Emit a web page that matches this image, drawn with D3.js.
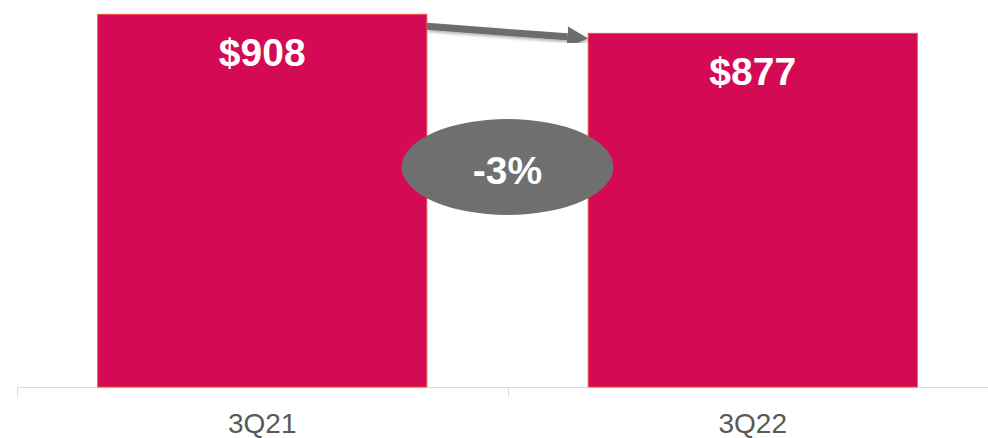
<!DOCTYPE html>
<html lang="en">
<head>
    <meta charset="UTF-8">
    <title>3Q21 vs 3Q22</title>
    <script src="https://cdnjs.cloudflare.com/ajax/libs/d3/7.8.5/d3.min.js"></script>
    <style>
        body { margin: 0; background: #fff; }
        svg { display: block; font-family: "Liberation Sans", Arial, sans-serif; }
    </style>
</head>
<body>
<div id="chart"></div>
<script>
    const categories = ["3Q21", "3Q22"];
    const values = [908, 877];
    const valueLabels = ["$908", "$877"];
    const changeLabel = "-3%";

    const width = 988, height = 438;
    const baseline = 387;

    const svg = d3.select("#chart").append("svg")
        .attr("width", width)
        .attr("height", height);

    const defs = svg.append("defs");
    const shadow = defs.append("filter").attr("id", "shadow")
        .attr("x", "-20%").attr("y", "-50%").attr("width", "140%").attr("height", "200%");
    shadow.append("feDropShadow")
        .attr("dx", 1).attr("dy", 2).attr("stdDeviation", 1.5)
        .attr("flood-color", "#000").attr("flood-opacity", 0.3);

    defs.append("marker")
        .attr("id", "head")
        .attr("viewBox", "0 0 10 10")
        .attr("refX", 0).attr("refY", 5)
        .attr("markerWidth", 3).attr("markerHeight", 3.3)
        .attr("markerUnits", "strokeWidth")
        .attr("orient", "auto")
        .append("path")
        .attr("d", "M0,0L10,5L0,10Z")
        .attr("fill", "#6d6d6d");

    const x = d3.scaleBand()
        .domain(categories)
        .range([17, 998])
        .paddingInner(0.329)
        .paddingOuter(0.1645);

    const y = d3.scaleLinear()
        .domain([300, 920])
        .range([baseline, 7]);

    // axis line with ticks at category boundaries
    const axis = svg.append("g");
    axis.append("line")
        .attr("x1", 17).attr("x2", width)
        .attr("y1", baseline + 0.5).attr("y2", baseline + 0.5)
        .attr("stroke", "#d9d9d9");
    d3.range(categories.length + 1).forEach(i => {
        const tx = Math.round(x.range()[0] + i * x.step()) + 0.5;
        axis.append("line")
            .attr("x1", tx).attr("x2", tx)
            .attr("y1", baseline).attr("y2", baseline + 10)
            .attr("stroke", "#d9d9d9");
    });

    svg.append("g").selectAll("rect")
        .data(values)
        .enter().append("rect")
        .attr("x", (d, i) => x(categories[i]))
        .attr("y", d => y(d))
        .attr("width", x.bandwidth())
        .attr("height", d => baseline - y(d))
        .attr("fill", "#d40b54")
        .attr("stroke", "#f0503c")
        .attr("stroke-width", 1);

    svg.append("g").selectAll("text")
        .data(values)
        .enter().append("text")
        .attr("x", (d, i) => x(categories[i]) + x.bandwidth() / 2)
        .attr("y", d => y(d) + 52)
        .attr("text-anchor", "middle")
        .attr("fill", "#fff")
        .attr("font-weight", "bold")
        .attr("font-size", 39)
        .text((d, i) => valueLabels[i]);

    svg.append("g").selectAll("text")
        .data(categories)
        .enter().append("text")
        .attr("x", d => x(d) + x.bandwidth() / 2)
        .attr("y", 433)
        .attr("text-anchor", "middle")
        .attr("fill", "#595959")
        .attr("font-size", 28)
        .text(d => d);

    // arrow from first bar to second
    const x1 = x(categories[0]) + x.bandwidth();
    const x2 = x(categories[1]);
    svg.append("line")
        .attr("x1", x1).attr("y1", y(values[0]) + 12)
        .attr("x2", x2 - 21).attr("y2", y(values[1]) + 3.5)
        .attr("stroke", "#6d6d6d")
        .attr("stroke-width", 7)
        .attr("marker-end", "url(#head)")
        .attr("filter", "url(#shadow)");

    // change bubble
    const cx = x.range()[0] + x.step();
    svg.append("ellipse")
        .attr("cx", cx).attr("cy", 167)
        .attr("rx", 106).attr("ry", 48)
        .attr("fill", "#6f6f6f");
    svg.append("text")
        .attr("x", cx).attr("y", 184)
        .attr("text-anchor", "middle")
        .attr("fill", "#fff")
        .attr("font-weight", "bold")
        .attr("font-size", 39)
        .text(changeLabel);
</script>
</body>
</html>
